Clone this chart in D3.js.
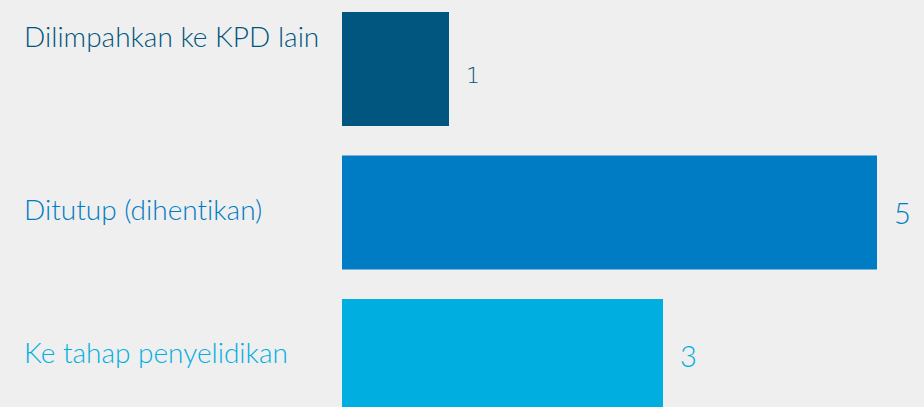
<!DOCTYPE html>
<html>
<head>
<meta charset="utf-8">
<script src="https://cdn.jsdelivr.net/npm/d3@7/dist/d3.min.js"></script>
<style>
  html, body { margin: 0; padding: 0; background: #efefef; }
  svg { display: block; }
  text { font-variant-ligatures: none; font-feature-settings: "liga" 0; }
</style>
</head>
<body>
<div id="chart"></div>
<script>
// Case outcomes and their counts
const categories = ["Dilimpahkan ke KPD lain", "Ditutup (dihentikan)", "Ke tahap penyelidikan"];
const values = [1, 5, 3];
const colors = ["#00567e", "#007cc4", "#00aee0"];

const width = 924, height = 407;

const svg = d3.select("#chart").append("svg")
  .attr("width", width)
  .attr("height", height);

svg.append("rect")
  .attr("width", width)
  .attr("height", height)
  .attr("fill", "#efefef");

const rows = categories.map((c, i) => ({ category: c, value: values[i], color: colors[i] }));

const x = d3.scaleLinear().domain([0, 5]).range([342, 877]);
const y = d3.scaleBand().domain(categories).range([12, 413]).paddingInner(0.2056).paddingOuter(0);

// bars
svg.selectAll("rect.bar")
  .data(rows)
  .join("rect")
  .attr("class", "bar")
  .attr("x", x(0))
  .attr("y", d => y(d.category))
  .attr("width", d => x(d.value) - x(0))
  .attr("height", y.bandwidth())
  .attr("fill", d => d.color);

// category labels: long labels sit at the top of their band, others centred
svg.selectAll("text.cat")
  .data(rows)
  .join("text")
  .attr("class", "cat")
  .attr("x", 24)
  .attr("y", d => d.category.length > 21 ? y(d.category) + 35 : y(d.category) + y.bandwidth() / 2 + 7)
  .attr("fill", d => d.color)
  .style("font-family", "Lato, 'Open Sans', sans-serif")
  .style("font-weight", 300)
  .style("font-size", "28px")
  .text(d => d.category);

// value labels
svg.selectAll("text.val")
  .data(rows)
  .join("text")
  .attr("class", "val")
  .attr("x", d => x(d.value) + 17)
  .attr("y", d => y(d.category) + y.bandwidth() / 2 + (d.value < 2 ? 14 : 11))
  .attr("fill", d => d.color)
  .style("font-family", d => d.value < 2 ? "'DejaVu Sans', sans-serif" : "Lato, 'Open Sans', sans-serif")
  .style("font-weight", d => d.value < 2 ? 200 : 300)
  .style("font-size", d => d.value < 2 ? "22px" : "29px")
  .text(d => d.value);
</script>
</body>
</html>
